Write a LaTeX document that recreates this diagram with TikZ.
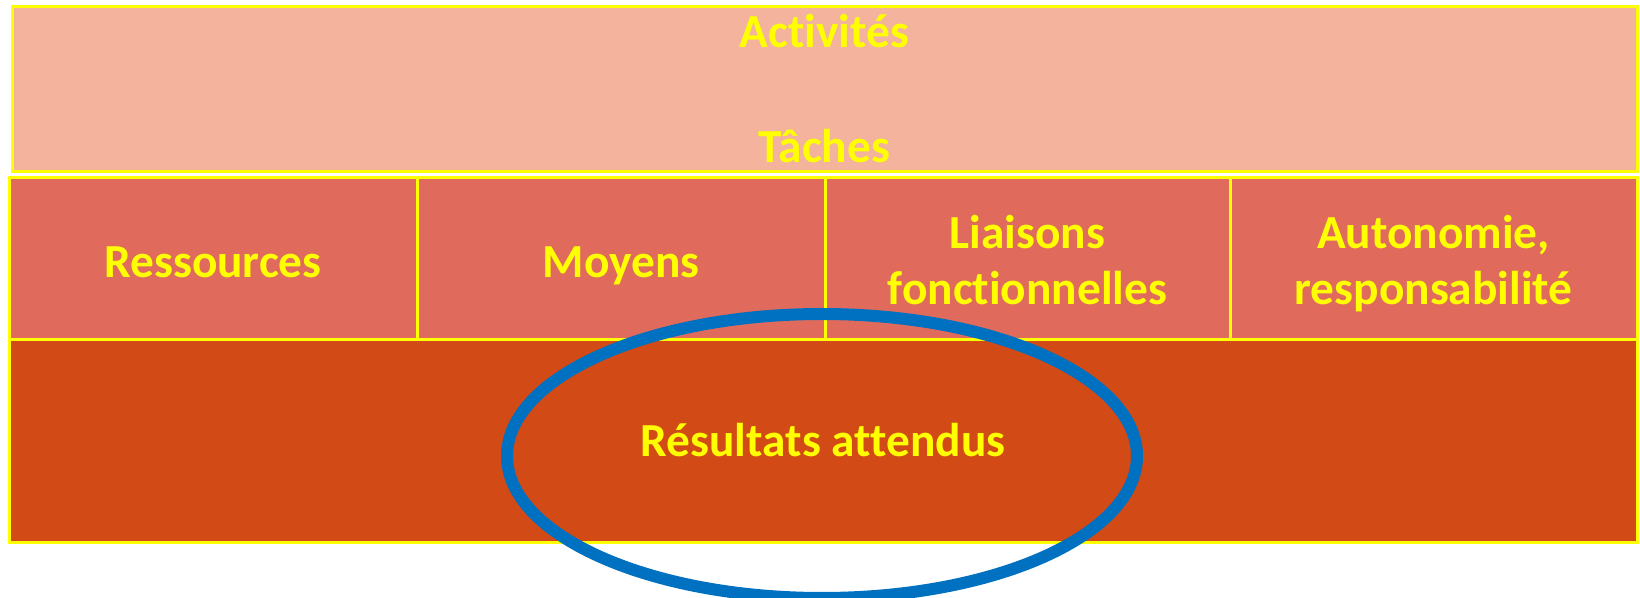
\documentclass[tikz,border=0pt]{standalone}
\usepackage{fontspec}
\setmainfont{Carlito}[Ligatures=NoCommon]
\usetikzlibrary{shapes.geometric}
\definecolor{peau}{RGB}{243,179,157}
\definecolor{brique}{RGB}{224,107,93}
\definecolor{rouille}{RGB}{210,74,22}
\definecolor{jaune}{RGB}{255,255,0}
\definecolor{bleu}{RGB}{0,112,192}
\begin{document}
\begin{tikzpicture}[
x = 0.5pt, y = -0.5pt,
cellule/.style = {draw=jaune, line width=1.5pt, inner sep=0pt},
texte/.style = {text=jaune, align=center, anchor=base, inner sep=0pt, font=\fontsize{23.7}{28}\selectfont\bfseries},
case/.style = {cellule, fill=brique, minimum height=81pt},
]
\useasboundingbox (0,0) rectangle (1640,598);
\node [cellule, fill=peau, minimum width=812.5pt, minimum height=82.5pt] (haut) at (824.5,89.5) {};
\node [case, minimum width=204pt] (res) at (213,259) {};
\node [case, minimum width=204pt] (moy) at (621,259) {};
\node [case, minimum width=202.5pt] (liai) at (1027.5,259) {};
\node [case, minimum width=203.5pt] (auto) at (1433.5,259) {};
\node [cellule, fill=rouille, minimum width=814pt, minimum height=101.5pt] (bas) at (823,441.5) {};
\node [texte] (act) at (824.5,48) {Activités};
\node [texte] (tach) at (824.5,163) {Tâches};
\node [texte] (t-res) at (213,278) {Ressources};
\node [texte] (t-moy) at (621,278) {Moyens};
\node [texte] (t-liai) at (1027.5,305) {Liaisons\\fonctionnelles};
\node [texte] (t-auto) at (1433.5,305) {Autonomie,\\responsabilité};
\node [texte] (t-bas) at (823,457) {Résultats attendus};
\node [draw=bleu, line width=6pt, ellipse, inner sep=0pt, minimum width=315pt, minimum height=142pt] (ovale) at (822,456) {};

\end{tikzpicture}
\end{document}
